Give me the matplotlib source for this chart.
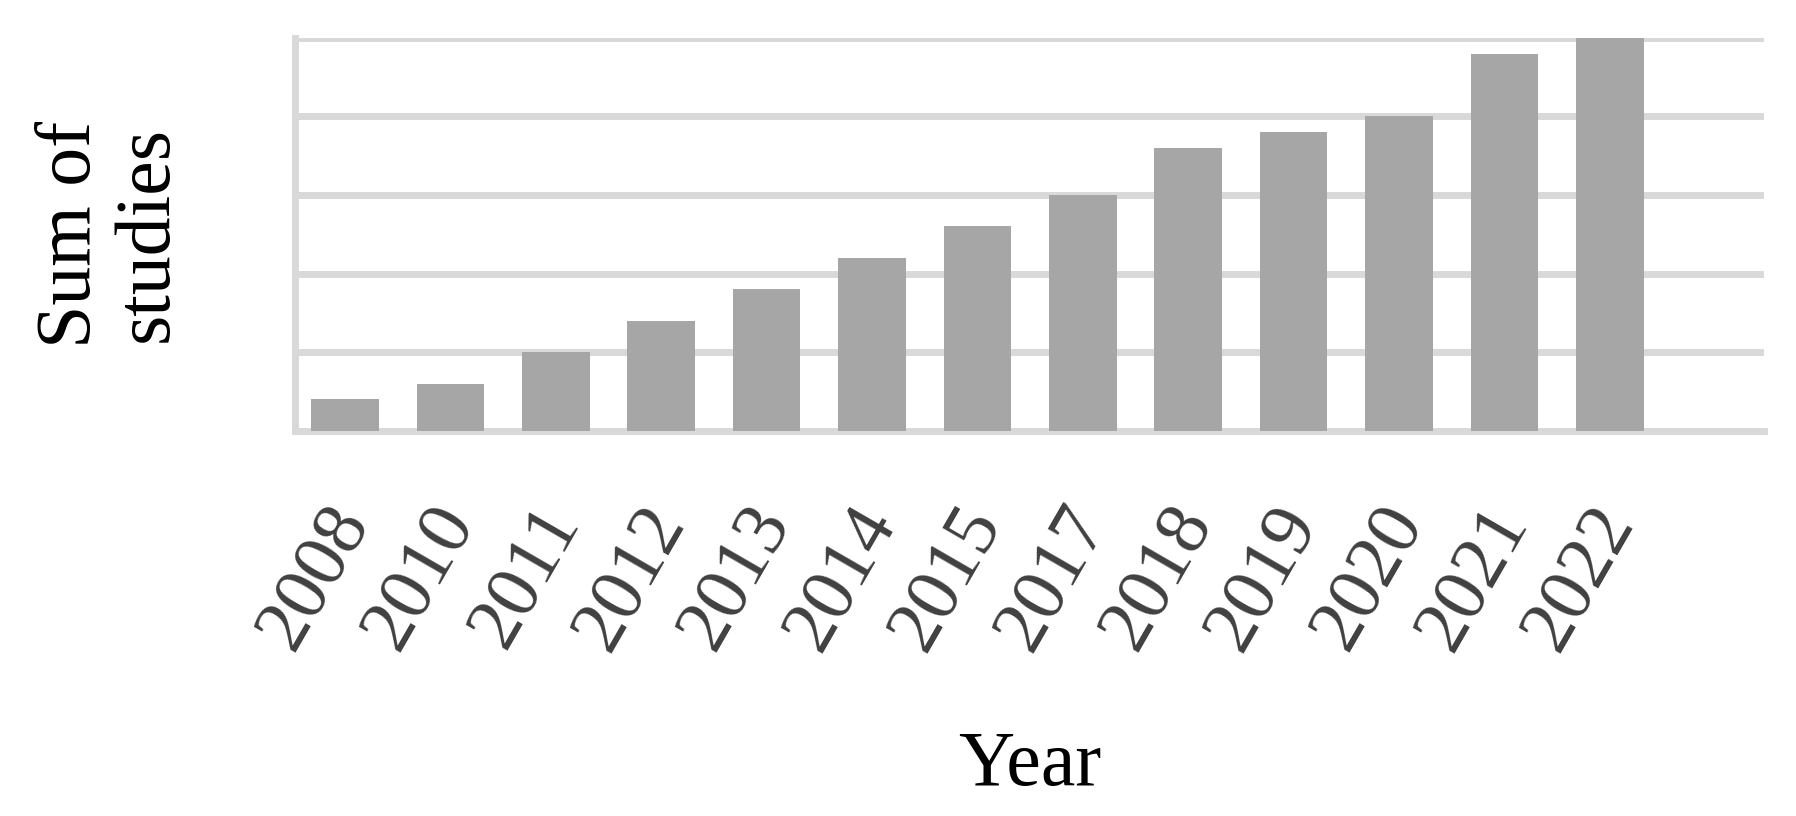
import matplotlib
matplotlib.use("Agg")
import matplotlib.pyplot as plt
from matplotlib.transforms import ScaledTranslation

years = ["2008", "2010", "2011", "2012", "2013", "2014", "2015",
         "2017", "2018", "2019", "2020", "2021", "2022"]
studies = [2, 3, 5, 7, 9, 11, 13, 15, 18, 19, 20, 24, 25]

plt.rcParams['font.family'] = ['Liberation Serif', 'DejaVu Serif']

fig = plt.figure(figsize=(17.96, 8.16), dpi=100)
ax = fig.add_axes([0.1645, 0.472, 0.8175, 0.4817])

x = list(range(len(years)))
ax.bar(x, studies, width=0.64, color="#A6A6A6", zorder=3)

ax.set_ylim(0, 25)
ax.set_xlim(-0.47, 13.46)
ax.set_yticks([0, 5, 10, 15, 20, 25])
ax.yaxis.grid(True, color="#D9D9D9", linewidth=5)
ax.set_axisbelow(True)
ax.tick_params(axis="y", length=0, labelleft=False)
ax.tick_params(axis="x", length=0, pad=58)

ax.set_xticks(x)
ax.set_xticklabels(years, rotation=60, ha="right", va="center",
                   rotation_mode="anchor", fontsize=55, color="#404040")
shift = ScaledTranslation(0.08, 0, fig.dpi_scale_trans)
for lab in ax.get_xticklabels():
    lab.set_transform(lab.get_transform() + shift)

for s in ["top", "right"]:
    ax.spines[s].set_visible(False)
for s in ["left", "bottom"]:
    ax.spines[s].set_color("#D9D9D9")
    ax.spines[s].set_linewidth(5)

ax.set_xlabel("Year", fontsize=56, color="black", labelpad=50)
fig.text(110 / 1796, 1 - 234 / 816, "Sum of\nstudies", rotation=90,
         ha="center", va="center", fontsize=56, linespacing=1.1,
         multialignment="center")

fig.savefig("out.png", dpi=100, facecolor="white")
